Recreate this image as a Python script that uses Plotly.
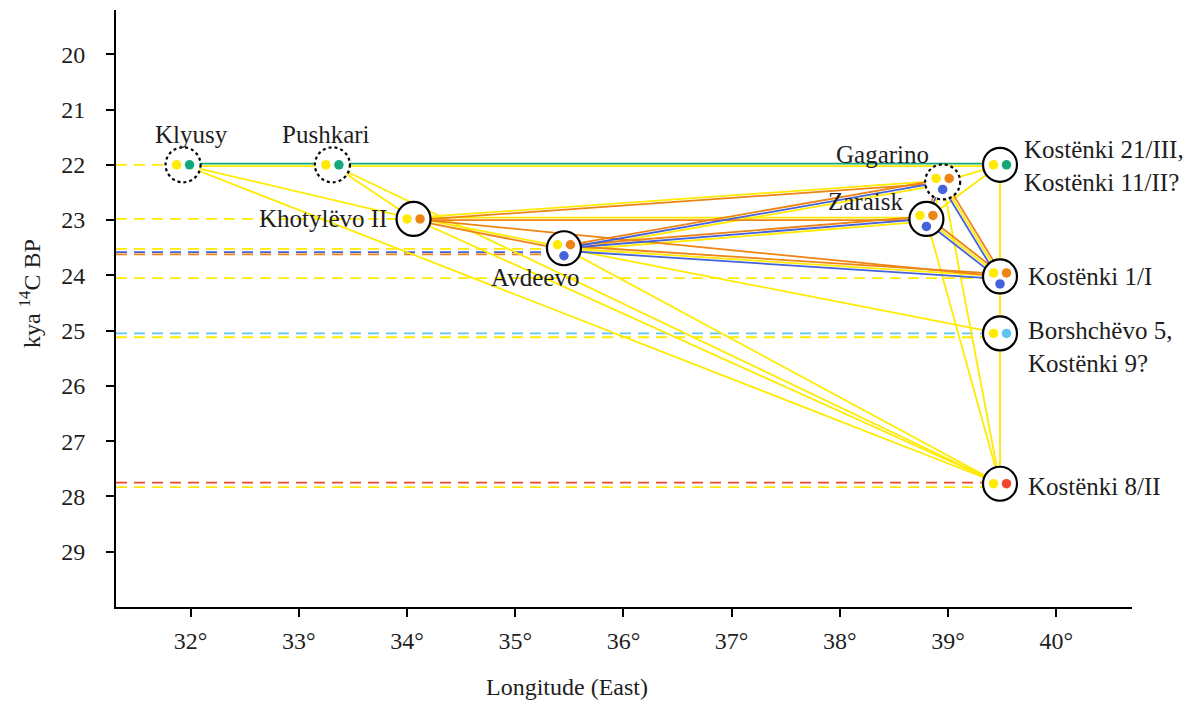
import math
import plotly.graph_objects as go

# ---------------- data ----------------
sites = ["Klyusy", "Pushkari", "Khotylëvo II", "Avdeevo", "Gagarino", "Zaraisk",
         "Kostënki 21/III", "Kostënki 1/I", "Borshchëvo 5", "Kostënki 8/II"]
lon = [31.93, 33.31, 34.06, 35.45, 38.95, 38.80, 39.48, 39.48, 39.48, 39.48]
kya = [22.0, 22.0, 22.98, 23.51, 22.31, 22.98, 22.0, 24.02, 25.05, 27.77]
uncertain = [True, True, False, False, True, False, False, False, False, False]
site_dots = [["Y", "G"], ["Y", "G"], ["Y", "O"], ["Y", "O", "B"], ["Y", "O", "B"],
             ["Y", "O", "B"], ["Y", "G"], ["Y", "O", "B"], ["Y", "C"], ["Y", "R"]]

edge_from = [0, 1, 0, 0, 1, 1, 2, 2, 2, 2, 2, 3, 3, 3, 3, 3, 4, 4, 4, 4, 5, 5, 5, 6, 7, 8]
edge_to   = [1, 6, 2, 9, 2, 9, 4, 5, 3, 7, 9, 4, 5, 7, 8, 9, 6, 5, 7, 9, 6, 7, 9, 7, 8, 9]
edge_cols = [["G", "Y"], ["G", "Y"], ["Y"], ["Y"], ["Y"], ["Y"], ["Y", "O"], ["Y", "O"],
             ["Y", "O"], ["O"], ["Y"], ["O", "B", "Y"], ["O", "B", "Y"], ["O", "Y", "B"],
             ["Y"], ["Y"], ["Y"], ["O", "B", "Y"], ["O", "Y", "B"], ["Y"], ["Y"],
             ["O", "Y", "B"], ["Y"], ["Y"], ["Y"], ["Y"]]

ref_site = [0, 2, 3, 3, 3, 7, 8, 8, 9, 9]
ref_kya = [22.0, 22.98, 23.52, 23.58, 23.62, 24.05, 25.05, 25.12, 27.75, 27.83]
ref_col = ["Y", "Y", "Y", "B", "O", "Y", "C", "Y", "R", "Y"]

x_ticks = [32, 33, 34, 35, 36, 37, 38, 39, 40]
x_ticktext = ["32°", "33°", "34°", "35°", "36°", "37°", "38°", "39°", "40°"]
y_ticks = [20, 21, 22, 23, 24, 25, 26, 27, 28, 29]

label_text = ["Klyusy", "Pushkari", "Khotylëvo II", "Avdeevo", "Gagarino", "Zaraisk",
              "Kostënki 21/III,<br>Kostënki 11/II?", "Kostënki 1/I",
              "Borshchëvo 5,<br>Kostënki 9?", "Kostënki 8/II"]

colors = {"Y": "#FFEA00", "G": "#13A87C", "O": "#EE8414", "B": "#4662DA",
          "C": "#5CC6F2", "R": "#F2472E"}

# ---------------- geometry ----------------
# the page has an 8px body margin; figure sized to fit the window exactly
W, H = 1180, 695
ML, MR, MT, MB = 108, 56, 2, 96
XR = [31.31, 40.70]
YR = [30.0, 19.2]
PW, PH = W - ML - MR, H - MT - MB
sx = PW / (XR[1] - XR[0])   # px per degree
sy = PH / (YR[0] - YR[1])   # px per kya (downwards)
PL, PT = 8 + ML, 8 + MT     # plot-area origin in page pixels

FONT = "Liberation Serif"
TXT = "#1e1e1e"
FS = 24
FSL = 25

fig = go.Figure()

# dashed date lines
for c in colors:
    xs, ys = [], []
    for s, v, col in zip(ref_site, ref_kya, ref_col):
        if col == c:
            xs += [XR[0], lon[s], None]
            ys += [v, v, None]
    if xs:
        fig.add_trace(go.Scatter(x=xs, y=ys, mode="lines",
                                 line=dict(color=colors[c], width=1.8, dash="11px,7px"),
                                 hoverinfo="skip", showlegend=False))

# edges drawn as parallel offset bundles (first colour on top)
SP = 2.5
seg = {c: ([], []) for c in colors}
for a, b, cols in zip(edge_from, edge_to, edge_cols):
    dxp = (lon[b] - lon[a]) * sx
    dyp = (kya[b] - kya[a]) * sy
    L = math.hypot(dxp, dyp)
    nx, ny = -dyp / L, dxp / L
    if ny > 0:
        nx, ny = -nx, -ny          # normal pointing up on screen
    n = len(cols)
    for k, c in enumerate(cols):
        o = ((n - 1) / 2 - k) * SP  # k=0 -> furthest up
        ox, oy = nx * o / sx, ny * o / sy
        xs, ys = seg[c]
        xs += [lon[a] + ox, lon[b] + ox, None]
        ys += [kya[a] + oy, kya[b] + oy, None]

for c in ["Y", "O", "B", "G", "C", "R"]:
    xs, ys = seg[c]
    if xs:
        fig.add_trace(go.Scatter(x=xs, y=ys, mode="lines",
                                 line=dict(color=colors[c], width=1.8),
                                 hoverinfo="skip", showlegend=False))

# site circles
fig.add_trace(go.Scatter(
    x=lon, y=kya, mode="markers",
    marker=dict(size=34, color="white",
                line=dict(color=["rgba(0,0,0,0)" if u else "black" for u in uncertain], width=2.2)),
    hoverinfo="skip", showlegend=False))

# dots inside circles
dx, dy, dc = [], [], []
for i, ds in enumerate(site_dots):
    if len(ds) == 2:
        offs = [(-6.5, 0), (6.5, 0)]
    else:
        offs = [(-6.5, -3.5), (6.5, -3.5), (0, 7.5)]
    for (ox, oy), c in zip(offs, ds):
        dx.append(lon[i] + ox / sx)
        dy.append(kya[i] + oy / sy)
        dc.append(colors[c])
fig.add_trace(go.Scatter(x=dx, y=dy, mode="markers",
                         marker=dict(size=9.5, color=dc, line=dict(width=0)),
                         hoverinfo="skip", showlegend=False))

# dotted outlines for uncertain sites
shapes = []
for i, u in enumerate(uncertain):
    if u:
        shapes.append(dict(type="circle", xref="x", yref="y",
                           xsizemode="pixel", ysizemode="pixel",
                           xanchor=lon[i], yanchor=kya[i],
                           x0=-17.5, x1=17.5, y0=-17.5, y1=17.5,
                           line=dict(color="black", width=2.2, dash="dot"),
                           fillcolor="rgba(0,0,0,0)", layer="above"))

# site labels
lab_anchor = ["center", "center", "right", "center", "right", "right", "left", "left", "left", "left"]
lab_xs = [8, -6, -25, -29, -12, -21, 22, 26, 26, 26]
lab_ys = [30, 30, 0, -29, 27, 17, -1, 0, -14, -3]
annotations = []
for i, t in enumerate(label_text):
    annotations.append(dict(x=lon[i], y=kya[i], xref="x", yref="y", text=t,
                            showarrow=False, xanchor=lab_anchor[i], yanchor="middle",
                            xshift=lab_xs[i], yshift=lab_ys[i], align="left",
                            font=dict(family=FONT, size=FSL, color=TXT)))

annotations.append(dict(x=(567 - PL) / PW, y=-(687 - (PT + PH)) / PH,
                        xref="paper", yref="paper", text="Longitude (East)", showarrow=False,
                        xanchor="center", yanchor="middle",
                        font=dict(family=FONT, size=FS, color=TXT)))
annotations.append(dict(x=(30 - PL) / PW, y=1 - (294 - PT) / PH,
                        xref="paper", yref="paper", text="kya <sup>14</sup>C BP", showarrow=False,
                        textangle=-90, xanchor="center", yanchor="middle",
                        font=dict(family=FONT, size=FS, color=TXT)))

axis_common = dict(showline=True, linecolor="black", linewidth=2, ticks="outside",
                   ticklen=8, tickwidth=1.5, tickcolor="black", showgrid=False,
                   zeroline=False, tickfont=dict(family=FONT, size=FS, color=TXT))

fig.update_layout(
    width=W, height=H, margin=dict(l=ML, r=MR, t=MT, b=MB, autoexpand=False),
    paper_bgcolor="white", plot_bgcolor="white",
    xaxis=dict(range=XR, tickvals=x_ticks, ticktext=x_ticktext,
               ticklabelstandoff=3, **axis_common),
    yaxis=dict(range=YR, tickvals=y_ticks, ticklabelstandoff=16, **axis_common),
    shapes=shapes, annotations=annotations, showlegend=False,
)

fig.write_html("out.html")
